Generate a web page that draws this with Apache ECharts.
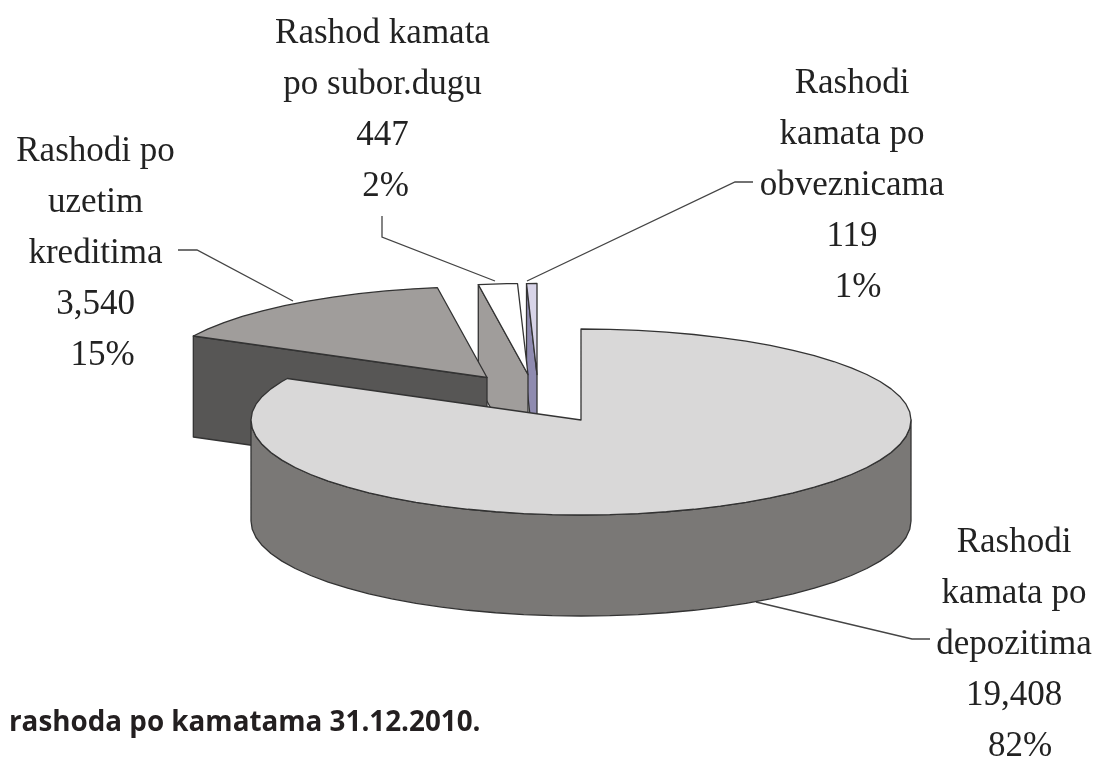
<!DOCTYPE html>
<html>
<head>
<meta charset="utf-8">
<title>Rashodi po kamatama</title>
<style>
  html, body { margin: 0; padding: 0; background: #fff; }
  #chart { width: 1100px; height: 757px; }
</style>
<script src="https://cdn.jsdelivr.net/npm/echarts@6/dist/echarts.min.js"></script>
</head>
<body>
<div id="chart"></div>
<script>
// data, clockwise from 12 o'clock
const categories = ['Rashodi kamata po depozitima', 'Rashodi po uzetim kreditima', 'Rashod kamata po subor.dugu', 'Rashodi kamata po obveznicama'];
const values = [19408, 3540, 447, 119];
const valueLabels = ['19,408', '3,540', '447', '119'];
const percentLabels = ['82%', '15%', '2%', '1%'];
const captionText = 'rashoda po kamatama 31.12.2010.';

// how the names wrap in the picture
const nameLines = [
  ['Rashodi', 'kamata po', 'depozitima'],
  ['Rashodi po', 'uzetim', 'kreditima'],
  ['Rashod kamata', 'po subor.dugu'],
  ['Rashodi', 'kamata po', 'obveznicama']
];

// --- layout of the tilted pie ---
const rx = 330;
const ryBack = 91;
const ryFront = 95;
const depth = 101;
const sliceCenters = [[581, 420], [487, 377.5], [528, 374.5], [537, 374.5]];
const topColors = ['#d9d8d8', '#a09d9b', '#ffffff', '#d8d4e8'];
const faceColors = ['#d9d8d8', '#575655', '#a09d9b', '#8f8bb0'];
const wallColors = ['#7a7876', '#7a7876', '#7a7876', '#7a7876'];
const lineColor = '#333333';

const labelX = [1014, 95.5, 382.5, 852];
const labelY = [543, 152, 34, 84];
const labelStep = 51;
const percentShift = [6, 7, 3, 6]; // the % lines sit a little right of the block
const leaders = [
  [[756, 602], [912, 639], [930, 639]],
  [[178, 250], [197, 250], [293, 301]],
  [[382, 216], [382, 237], [495, 281]],
  [[753, 182], [735, 182], [527, 281]]
];

const total = values.reduce((a, b) => a + b, 0);

function ellipsePoint(c, deg) {
  const a = deg * Math.PI / 180;
  const cos = Math.cos(a);
  return [c[0] + rx * Math.sin(a), c[1] - (cos > 0 ? ryBack : ryFront) * cos];
}

// facets are a bit coarse on purpose, the source has a faceted rim
function arcPoints(c, from, to) {
  const pts = [];
  const step = 5;
  for (let d = from; d < to; d += step) pts.push(ellipsePoint(c, d));
  pts.push(ellipsePoint(c, to));
  return pts;
}

function poly(points, fill) {
  return {
    type: 'polygon',
    shape: { points: points },
    style: { fill: fill, stroke: lineColor, lineWidth: 1.3, lineJoin: 'round' }
  };
}

function renderSlice(params, api) {
  const i = api.value(1);
  let start = 0;
  for (let k = 0; k < i; k++) start += values[k] / total * 360;
  const end = start + api.value(0) / total * 360;
  const c = sliceCenters[i];
  const children = [];

  // radial face, only seen when it looks to the left
  if (start > 180 && start < 360) {
    const p = ellipsePoint(c, start);
    children.push(poly([p, c, [c[0], c[1] + depth], [p[0], p[1] + depth]], faceColors[i]));
  }
  // outer wall of the front half
  const wallFrom = Math.max(start, 90);
  const wallTo = Math.min(end, 270);
  if (wallTo > wallFrom) {
    const rim = arcPoints(c, wallFrom, wallTo);
    const low = rim.map(p => [p[0], p[1] + depth]).reverse();
    children.push(poly(rim.concat(low), wallColors[i]));
  }
  // top
  children.push(poly([c].concat(arcPoints(c, start, end)), topColors[i]));

  return { type: 'group', children: children };
}

// back slices first so the big one lies on top
const sliceData = categories.map((name, i) => ({ name: name, value: [values[i], i] })).reverse();

const textItems = [];
categories.forEach((name, i) => {
  const lines = nameLines[i].concat([valueLabels[i], percentLabels[i]]);
  lines.forEach((line, n) => {
    textItems.push({
      type: 'text',
      x: labelX[i] + (n === lines.length - 1 ? percentShift[i] : 0),
      y: labelY[i] + n * labelStep,
      style: {
        text: line,
        fill: '#222222',
        font: '35px "Liberation Serif", serif',
        align: 'center',
        verticalAlign: 'middle'
      }
    });
  });
});

const leaderItems = leaders.map(points => ({
  type: 'polyline',
  shape: { points: points },
  style: { fill: 'none', stroke: '#444444', lineWidth: 1.3 }
}));

const chart = echarts.init(document.getElementById('chart'));
chart.setOption({
  backgroundColor: '#ffffff',
  animation: false,
  series: [{
    type: 'custom',
    coordinateSystem: 'none',
    data: sliceData,
    renderItem: renderSlice,
    silent: true
  }],
  graphic: textItems.concat(leaderItems, [{
    type: 'text',
    x: 9,
    y: 723.5,
    style: {
      text: captionText,
      fill: '#231f20',
      font: 'bold 27.8px "Open Sans", sans-serif',
      align: 'left',
      verticalAlign: 'middle'
    }
  }])
});
</script>
</body>
</html>
